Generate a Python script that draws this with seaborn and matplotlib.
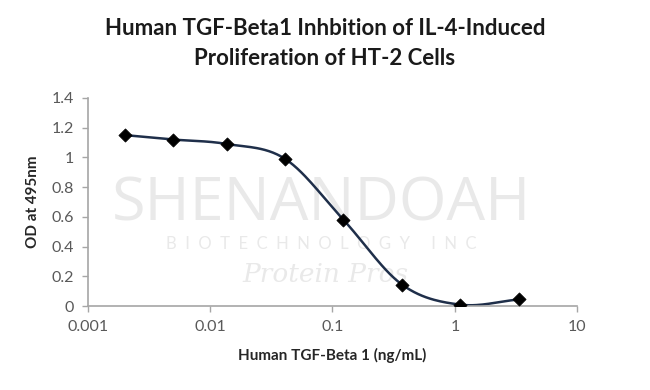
import numpy as np
import pandas as pd
import matplotlib
matplotlib.use("Agg")
import matplotlib.pyplot as plt
import seaborn as sns

# Data
conc_ng_ml = [0.002, 0.005, 0.0137, 0.041, 0.123, 0.37, 1.11, 3.33]
od_495 = [1.15, 1.12, 1.09, 0.99, 0.58, 0.145, 0.01, 0.045]
x_ticks = [0.001, 0.01, 0.1, 1, 10]
x_tick_labels = ["0.001", "0.01", "0.1", "1", "10"]
y_ticks = [0, 0.2, 0.4, 0.6, 0.8, 1.0, 1.2, 1.4]
y_tick_labels = ["0", "0.2", "0.4", "0.6", "0.8", "1", "1.2", "1.4"]
title = "Human TGF-Beta1 Inhbition of IL-4-Induced\nProliferation of HT-2 Cells"
x_label = "Human TGF-Beta 1 (ng/mL)"
y_label = "OD at 495nm"

sns.set_theme(style="white")
plt.rcParams['font.family'] = ['Lato', 'DejaVu Sans']

df = pd.DataFrame({"conc": conc_ng_ml, "od": od_495})

# Smoothed line (Catmull-Rom in log-x space, like a spreadsheet smoothed line)
lx = np.log10(df["conc"].to_numpy())
yy = df["od"].to_numpy()
px = np.concatenate([[2 * lx[0] - lx[1]], lx, [2 * lx[-1] - lx[-2]]])
py = np.concatenate([[2 * yy[0] - yy[1]], yy, [2 * yy[-1] - yy[-2]]])
sx, sy = [], []
t = np.linspace(0, 1, 30)
for i in range(1, len(px) - 2):
    p0x, p1x, p2x, p3x = px[i - 1], px[i], px[i + 1], px[i + 2]
    p0y, p1y, p2y, p3y = py[i - 1], py[i], py[i + 1], py[i + 2]
    bx = 0.5 * ((2 * p1x) + (-p0x + p2x) * t + (2 * p0x - 5 * p1x + 4 * p2x - p3x) * t**2 + (-p0x + 3 * p1x - 3 * p2x + p3x) * t**3)
    by = 0.5 * ((2 * p1y) + (-p0y + p2y) * t + (2 * p0y - 5 * p1y + 4 * p2y - p3y) * t**2 + (-p0y + 3 * p1y - 3 * p2y + p3y) * t**3)
    sx.extend(bx)
    sy.extend(by)
smooth = pd.DataFrame({"conc": 10 ** np.array(sx), "od": np.array(sy)})

fig = plt.figure(figsize=(6.5, 3.9), dpi=100)
ax = fig.add_axes([0.135, 0.215, 0.753, 0.534])

# watermark (drawn inside the axes, beneath the data)
wm = "#e9e9e9"
ax.text(0.495, 0.475, "SHENANDOAH", ha="center", va="center", fontsize=44, color=wm,
        zorder=0, family="Open Sans", transform=fig.transFigure)
ax.text(0.495, 0.375, "B  I  O  T  E  C  H  N  O  L  O  G  Y     I  N  C", ha="center", va="center",
        fontsize=12, color=wm, zorder=0, transform=fig.transFigure)
ax.text(0.50, 0.295, "Protein Pros", ha="center", va="center", fontsize=19, color=wm,
        style="italic", family="DejaVu Serif", zorder=0, transform=fig.transFigure)

sns.lineplot(data=smooth, x="conc", y="od", ax=ax, color="#1f2f4a", linewidth=1.8, sort=False, zorder=2)
sns.scatterplot(data=df, x="conc", y="od", ax=ax, marker="D", s=45, color="black", edgecolor="black", zorder=3)

ax.set_xscale("log")
ax.set_xlim(0.001, 10)
ax.set_ylim(0, 1.4)
ax.set_xticks(x_ticks)
ax.set_xticklabels(x_tick_labels)
ax.minorticks_off()
ax.set_yticks(y_ticks)
ax.set_yticklabels(y_tick_labels)

for s in ["top", "right"]:
    ax.spines[s].set_visible(False)
for s in ["left", "bottom"]:
    ax.spines[s].set_color("#a6a6a6")
    ax.spines[s].set_linewidth(1.2)
ax.tick_params(axis="both", which="major", direction="out", length=4, width=1,
               color="#a6a6a6", labelsize=11.5, labelcolor="#595959", bottom=True, left=True, pad=6)

ax.set_xlabel(x_label, fontsize=11, fontweight="bold", color="#262626", labelpad=10)
ax.set_ylabel(y_label, fontsize=11, fontweight="bold", color="#262626", labelpad=8)
fig.text(0.5, 0.888, title, ha="center", va="center", fontsize=16, fontweight="bold",
         color="#1a1a1a", linespacing=1.55)

fig.savefig("out.png", dpi=100)
